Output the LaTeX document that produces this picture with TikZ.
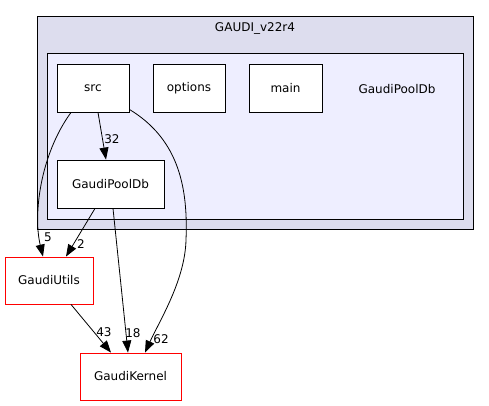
\documentclass[tikz,border=0pt]{standalone}
\usepackage{fontspec}
\setmainfont{DejaVu Sans}
\usepackage{xcolor}
\usetikzlibrary{
    arrows.meta,
    shapes,
    positioning,
    calc
}
\definecolor{outerfill}{HTML}{DDDDEE}
\definecolor{innerfill}{HTML}{EEEEFF}
\tikzset{%
    >={Triangle[width=9pt,length=12pt]},
    % Specifications for style of nodes:
    plain/.style = {},
    base/.style = {
        plain,
        rectangle, draw=black, line width=0.9pt,
        minimum width=72pt, minimum height=48pt,
        text centered, font=\fontsize{12}{14}\selectfont,
        fill=white, align=center, inner sep=0pt
    },
    dirbox/.style = {base},
    extbox/.style = {base, draw=red, minimum height=47pt},
    cluster/.style = {base, font={}},
    lbl/.style = {font=\fontsize{12}{14}\selectfont, inner sep=0pt},
    dep/.style = {->, line width=0.8pt}
}
\begin{document}
\begin{tikzpicture}[x=1pt, y=-1pt]
    \useasboundingbox (0,0) rectangle (489,405);
    % clusters
    \node[cluster, fill=outerfill, minimum width=436pt, minimum height=213pt] (gaudi) at (255,122.5) {};
    \node[lbl] at (255,28) {GAUDI\_v22r4};
    \node[cluster, fill=innerfill, minimum width=416pt, minimum height=166pt] (pooldir) at (255,136) {};
    \node[lbl] at (397,89) {GaudiPoolDb};
    % directories
    \node[dirbox] (src) at (93,88) {src};
    \node[dirbox] (options) at (189,88) {options};
    \node[dirbox, minimum width=73pt] (main) at (285.5,88) {main};
    \node[dirbox, minimum width=107pt] (pooldb) at (110.5,184) {GaudiPoolDb};
    \node[extbox, minimum width=88pt] (utils) at (49,280.5) {GaudiUtils};
    \node[extbox, minimum width=101pt] (kernel) at (130.5,376.5) {GaudiKernel};
    % dependencies
    \draw[dep] ([xshift=5pt]src.south) -- ([xshift=-4.5pt]pooldb.north);
    \node[lbl] at (112,139) {32};
    \draw[dep] ([xshift=-22pt]src.south) .. controls (40,155) and (33,215) .. ([xshift=-6pt]utils.north);
    \node[lbl] at (48,237) {5};
    \draw[dep] ([xshift=-15.5pt]pooldb.south) -- ([xshift=17pt]utils.north);
    \node[lbl] at (81,244) {2};
    \draw[dep] ([xshift=2.5pt]pooldb.south) -- ([xshift=-2.5pt]kernel.north);
    \node[lbl] at (133,333) {18};
    \draw[dep] ([xshift=22pt]utils.south) -- ([xshift=-19.5pt]kernel.north);
    \node[lbl] at (104,332) {43};
    \draw[dep] ([yshift=3pt]src.south east) .. controls (180,140) and (188,190) .. (186,240)
        .. controls (185,280) and (160,320) .. ([xshift=14.5pt]kernel.north);
    \node[lbl] at (161,339) {62};
\end{tikzpicture}
\end{document}
